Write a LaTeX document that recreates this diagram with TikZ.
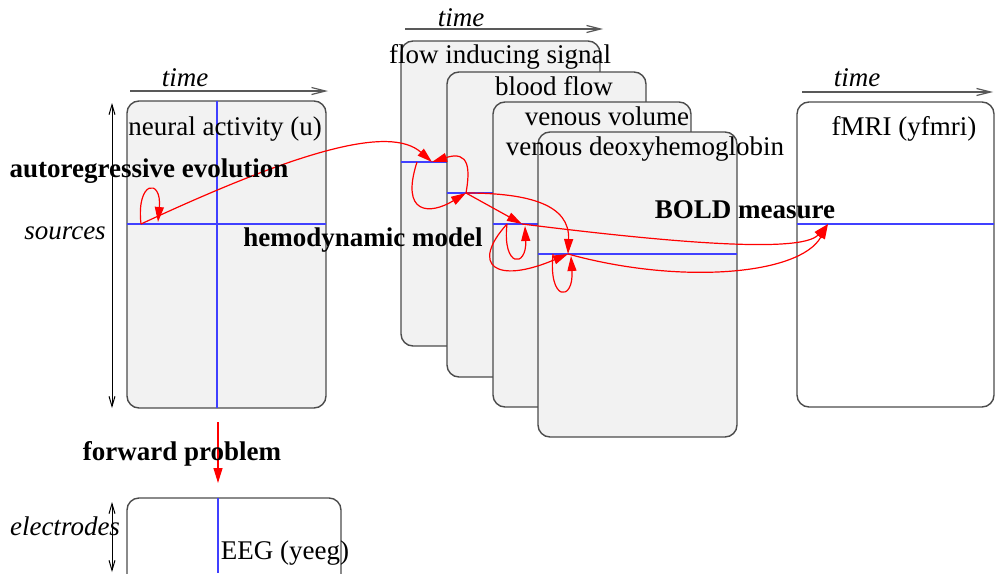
\documentclass[tikz,border=0pt]{standalone}
\usepackage{fontspec}
\setmainfont{Liberation Serif}
\usetikzlibrary{arrows.meta}

\begin{document}
\begin{tikzpicture}[x=0.5pt,y=-0.5pt]
        \tikzstyle{every node}+=[inner sep=0pt, font=\fontsize{13.5}{16}\selectfont]
        \tikzstyle{panel}=[draw=black!70, line width=0.7pt, rounded corners=6pt, fill=black!5]
        \tikzstyle{blueln}=[blue!75!white, line width=0.7pt]
        \tikzstyle{flow}=[red, line width=0.6pt, -{Triangle[length=7.5pt,width=4.5pt]}]
        \tikzstyle{timeax}=[black!65, line width=0.6pt, -{Straight Barb[length=7pt,width=3.5pt]}]
        \tikzstyle{extent}=[black, line width=0.5pt, {Straight Barb[length=5pt,width=3pt]}-{Straight Barb[length=5pt,width=3pt]}]
        \useasboundingbox (0,0) rectangle (995,573);
        \clip (0,0) rectangle (995,573);
        % neural activity
        \draw [panel] (127,101) rectangle (326,408);
        \draw [blueln] (217,101) -- (217,408);
        \draw [blueln] (127,224) -- (326,224);
        % EEG
        \draw [panel, fill=white] (127,498) rectangle (341,610);
        \draw [blueln] (218,498) -- (218,573);
        % fMRI
        \draw [panel, fill=white] (797,102) rectangle (994,407);
        \draw [blueln] (797,224) -- (994,224);
        % hemodynamic stack
        \draw [panel] (401,41) rectangle (600,346);
        \draw [blueln] (401,162) -- (600,162);
        \draw [panel] (447,72) rectangle (646,377);
        \draw [blueln] (447,193) -- (646,193);
        \draw [panel] (493,102) rectangle (691,407);
        \draw [blueln] (493,224) -- (691,224);
        \draw [panel] (538,132) rectangle (737,437);
        \draw [blueln] (538,254) -- (737,254);
        % axes
        \coordinate (tna) at (130,91);
        \coordinate (tnb) at (328,91);
        \coordinate (tha) at (405,29);
        \coordinate (thb) at (603,29);
        \coordinate (tfa) at (802,92);
        \coordinate (tfb) at (993,92);
        \coordinate (sra) at (112,103);
        \coordinate (srb) at (112,408);
        \coordinate (ela) at (112,502);
        \coordinate (elb) at (112,572);
        \draw [timeax] (tna) -- (tnb);
        \draw [timeax] (tha) -- (thb);
        \draw [timeax] (tfa) -- (tfb);
        \draw [extent] (sra) -- (srb);
        \draw [extent] (ela) -- (elb);
        % states
        \coordinate (u) at (141,224);
        \coordinate (uloop) at (158,222);
        \coordinate (flowin) at (432,162);
        \coordinate (flowout) at (417,162);
        \coordinate (blood) at (466,193);
        \coordinate (volin) at (522,224);
        \coordinate (volout) at (507,224);
        \coordinate (volloop) at (525,226);
        \coordinate (deoxyin) at (568,254);
        \coordinate (deoxyout) at (553,254);
        \coordinate (deoxyloop) at (571,256);
        \coordinate (bold) at (828,224);
        \coordinate (fwda) at (218,422);
        \coordinate (fwdb) at (218,483);
        \draw [flow] (u) .. controls (136,180) and (162,178) .. (uloop);
        \draw [flow] (u) .. controls (300,150) and (390,125) .. (flowin);
        \draw [flow] (blood) .. controls (470,170) and (470,150) .. (flowin);
        \draw [flow] (flowout) .. controls (400,215) and (430,215) .. (blood);
        \draw [flow] (blood) -- (volin);
        \draw [flow] (blood) .. controls (530,193) and (570,205) .. (deoxyin);
        \draw [flow] (volout) .. controls (502,268) and (527,268) .. (volloop);
        \draw [flow] (volout) .. controls (470,265) and (495,285) .. (deoxyin);
        \draw [flow] (deoxyout) .. controls (548,302) and (574,302) .. (deoxyloop);
        \draw [flow] (volin) .. controls (650,240) and (800,255) .. (bold);
        \draw [flow] (deoxyin) .. controls (680,285) and (800,275) .. (bold);
        \draw [flow] (fwda) -- (fwdb);
        % labels
        \draw (185,86) node[anchor=base] (tn) {\itshape time};
        \draw (461,26) node[anchor=base] (th) {\itshape time};
        \draw (857,86) node[anchor=base] (tf) {\itshape time};
        \draw (225,135) node[anchor=base] (neural) {neural activity (u)};
        \draw (904,135) node[anchor=base] (fmri) {fMRI (yfmri)};
        \draw (500,63) node[anchor=base] (fis) {flow inducing signal};
        \draw (554,95) node[anchor=base] (bf) {blood flow};
        \draw (607,125) node[anchor=base] (vv) {venous volume};
        \draw (645,155) node[anchor=base] (vd) {venous deoxyhemoglobin};
        \draw (149,177) node[anchor=base] (ar) {\bfseries autoregressive evolution};
        \draw (65,239) node[anchor=base] (src) {\itshape sources};
        \draw (363,246) node[anchor=base] (hm) {\bfseries hemodynamic model};
        \draw (745,218) node[anchor=base] (bm) {\bfseries BOLD measure};
        \draw (182,460) node[anchor=base] (fp) {\bfseries forward problem};
        \draw (65,535) node[anchor=base] (el) {\itshape electrodes};
        \draw (285,559) node[anchor=base] (eeg) {EEG (yeeg)};
\end{tikzpicture}
\end{document}
